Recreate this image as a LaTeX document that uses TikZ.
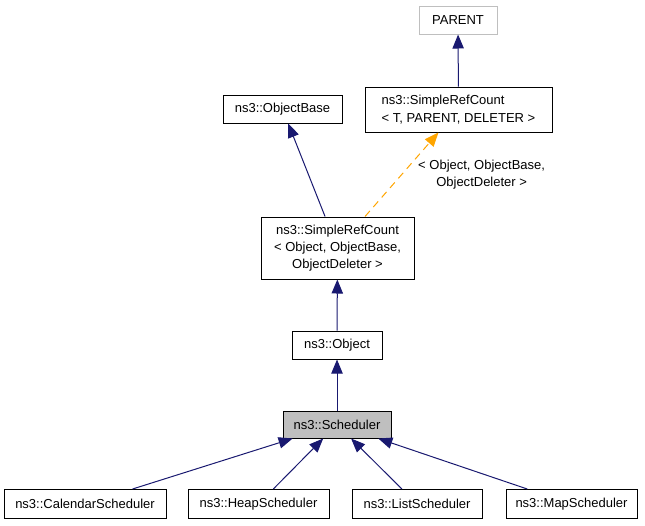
\documentclass[tikz,border=0pt]{standalone}
\usepackage{fontspec}
\setmainfont{Liberation Sans}
\usepackage{tikz}
\usetikzlibrary{positioning}
\usetikzlibrary{arrows.meta,shapes}
\definecolor{navy}{HTML}{191970}
\definecolor{boxgray}{HTML}{BFBFBF}
\definecolor{tplorange}{HTML}{FFA500}
\tikzstyle{classbox}=[rectangle,draw=black,fill=white,line width=0.75pt,inner sep=0pt,font=\fontsize{9.75}{13}\selectfont]
\tikzstyle{extbox}=[classbox,draw=boxgray]
\tikzstyle{thisbox}=[classbox,fill=boxgray]
\tikzstyle{inherit} = [draw=navy,line width=0.75pt,-{Triangle[length=10.5pt,width=8.5pt]}]
\tikzstyle{bind} = [draw=tplorange,line width=0.75pt,dash pattern=on 5.5pt off 4pt,-{Triangle[length=10.5pt,width=8.5pt]}]
\tikzstyle{tlabel} = [inner sep=0pt,align=center,font=\fontsize{9.75}{13}\selectfont]

\begin{document}
\begin{tikzpicture}[x=0.75pt,y=-0.75pt]

  \def\u{0.75pt}
  \useasboundingbox (0,0) rectangle (645,525);

   \foreach \x/\y/\w/\h/\name/\style/\label in {458/20/78/28/parent/extbox/PARENT,
         282.5/109/119/28/objbase/classbox/ns3::ObjectBase,
         337/345/90/28/object/classbox/ns3::Object,
         337/424.5/108/27/sched/thisbox/ns3::Scheduler,
         85/504/162/29/cal/classbox/ns3::CalendarScheduler,
         258.5/504/141/29/heap/classbox/ns3::HeapScheduler,
         417/504/130/29/list/classbox/ns3::ListScheduler,
         571.5/504/131/29/map/classbox/ns3::MapScheduler}
          \node[\style, minimum width=\w*\u, minimum height=\h*\u] (\name) at (\x, \y) {\label};

   \node[classbox, align=left, minimum width=187*\u, minimum height=45*\u] (srcgen) at (458.5, 109.5)
        {ns3::SimpleRefCount\\< T, PARENT, DELETER >};
   \node[classbox, align=center, minimum width=153*\u, minimum height=62*\u] (srcobj) at (337.5, 248)
        {ns3::SimpleRefCount\\< Object, ObjectBase,\\ObjectDeleter >};

  \foreach \source/ \dest in {srcgen/parent, srcobj/objbase, object/srcobj, sched/object,
         cal/sched, heap/sched, list/sched, map/sched}
         \draw[inherit] (\source) -- (\dest);

   \draw[bind] (srcobj) -- node[tlabel, pos=0.5, anchor=west, xshift=12pt] {< Object, ObjectBase,\\ObjectDeleter >} (srcgen);

\end{tikzpicture}
\end{document}
